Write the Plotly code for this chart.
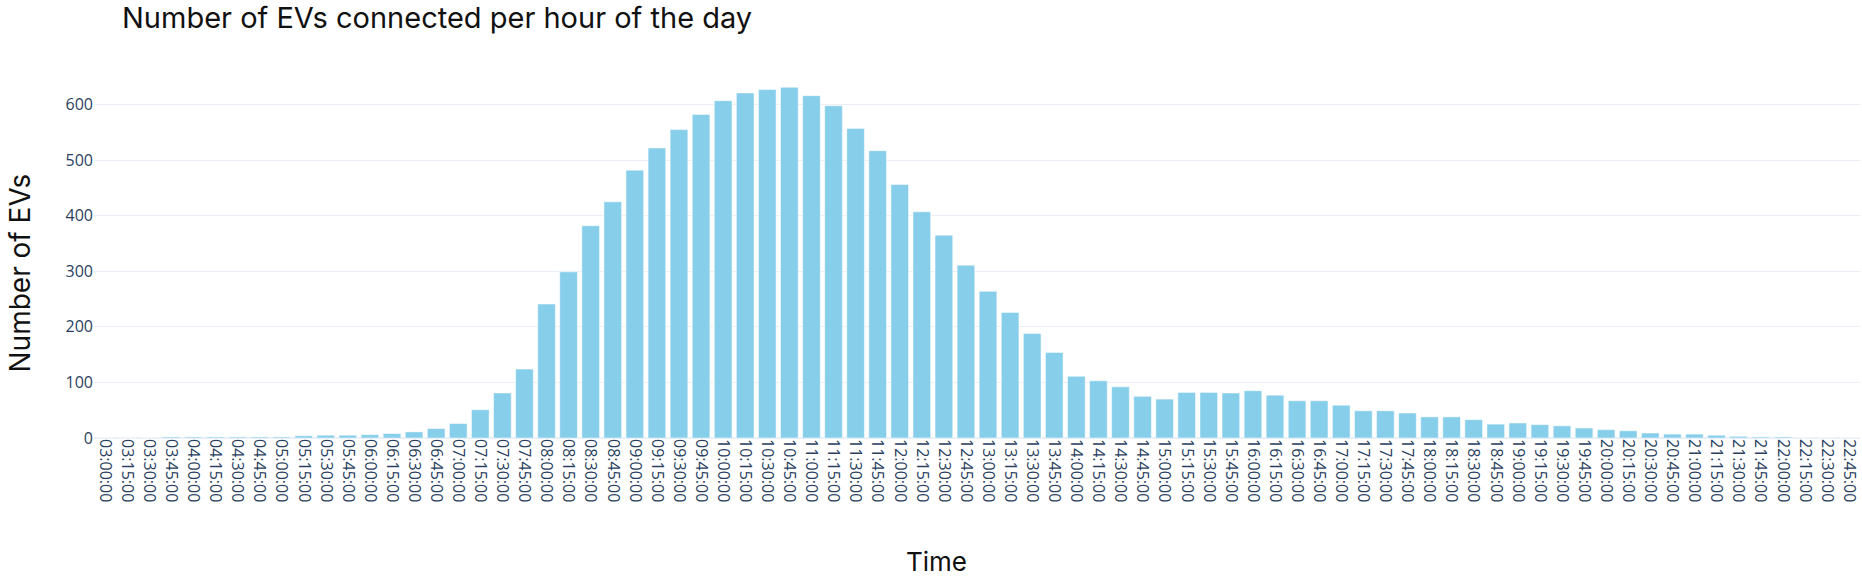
import plotly.graph_objects as go

# Time slots (15-minute intervals)
times = [f"{h:02d}:{m:02d}:00" for h in range(3, 23) for m in (0, 15, 30, 45)]

counts = [
    0, 0, 0, 2, 2, 2, 2, 2,          # 03:00 - 04:45
    2, 4, 5, 5, 6, 8, 11, 17,        # 05:00 - 06:45
    26, 51, 81, 124, 241, 299, 382, 425,   # 07:00 - 08:45
    482, 522, 555, 582, 607, 621, 627, 631,  # 09:00 - 10:45
    616, 598, 557, 517, 456, 407, 365, 311,  # 11:00 - 12:45
    264, 226, 188, 154, 111, 103, 92, 75,    # 13:00 - 14:45
    70, 82, 82, 81, 85, 77, 67, 67,          # 15:00 - 16:45
    59, 49, 49, 45, 38, 38, 33, 25,          # 17:00 - 18:45
    27, 24, 22, 18, 15, 13, 9, 7,            # 19:00 - 20:45
    7, 5, 3, 2, 2, 0, 0, 0,                  # 21:00 - 22:45
]

title_text = "Number of EVs connected per hour of the day"
x_title = "Time"
y_title = "Number of EVs"

W, H = 1862, 581
L, R, T, B = 94, 2, 69, 143
pw = W - L - R
ph = H - T - B

fig = go.Figure(go.Bar(x=times, y=counts, marker=dict(color="#87CEEB", line=dict(color="white", width=0.5))))

fig.update_layout(
    template="plotly_white",
    width=W, height=H,
    margin=dict(l=L, r=R, t=T, b=B, autoexpand=False),
    bargap=0.2,
    title=dict(text=title_text, x=122 / W, xanchor="left", xref="container",
               y=1 - 18 / H, yanchor="middle", yref="container", pad=dict(l=0, r=0, t=0, b=0),
               font=dict(family="Inter", size=29, color="#111111")),
    font=dict(family="Open Sans", color="#2a3f5f"),
    showlegend=False,
)
fig.update_xaxes(type="category", tickangle=90, tickfont=dict(size=16), ticks="", automargin=False)
fig.update_yaxes(range=[0, 664], tickvals=[0, 100, 200, 300, 400, 500, 600], tickfont=dict(size=16),
                 automargin=False)

fig.add_annotation(text=x_title, xref="paper", yref="paper",
                   x=(936 - L) / pw, y=(H - B - 561) / ph, xanchor="center", yanchor="middle",
                   showarrow=False, font=dict(family="Inter", size=26, color="#111111"))
fig.add_annotation(text=y_title, xref="paper", yref="paper", textangle=-90,
                   x=(19 - L) / pw, y=(H - B - 273.5) / ph, xanchor="center", yanchor="middle",
                   showarrow=False, font=dict(family="Inter", size=28, color="#111111"))

fig.write_html(
    "out.html",
    config={"displayModeBar": False},
    post_script="document.body.style.margin='0';document.body.style.overflow='hidden';",
)
